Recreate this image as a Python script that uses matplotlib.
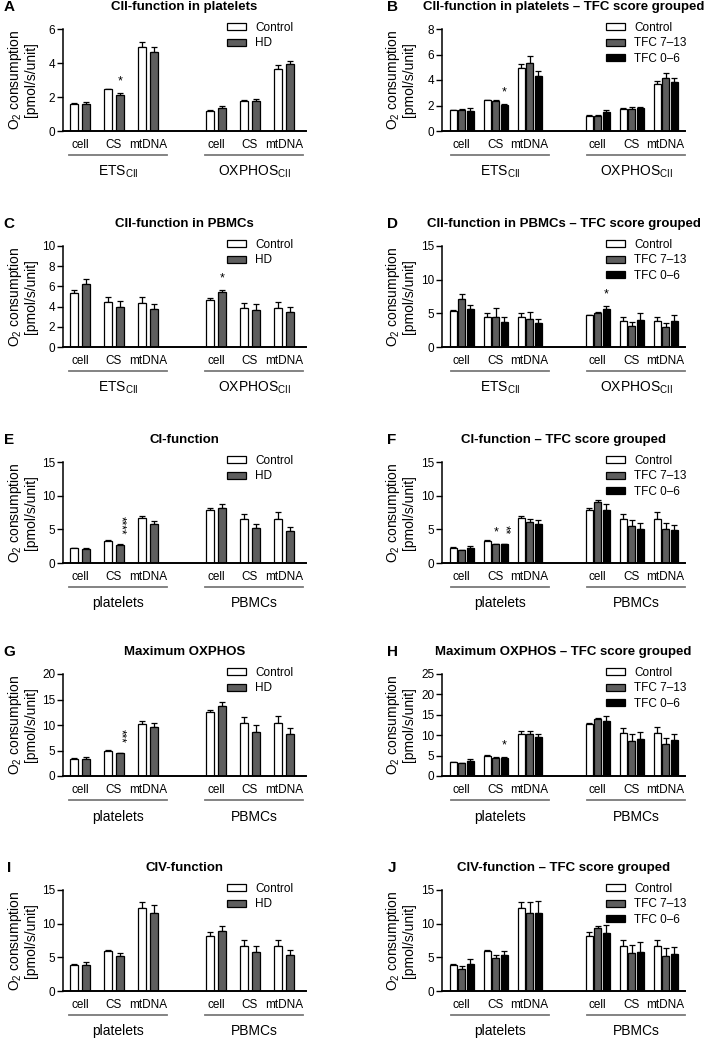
import numpy as np
import matplotlib
matplotlib.use("Agg")
import matplotlib.pyplot as plt
from matplotlib import transforms

plt.rcParams["font.family"] = ["Liberation Sans", "DejaVu Sans"]
plt.rcParams["mathtext.default"] = "regular"

# ---- labels ----
cats = ["cell", "CS", "mtDNA"]
hd_names = ["Control", "HD"]
tfc_names = ["Control", "TFC 7\u201313", "TFC 0\u20136"]
cii_groups = ["ETS$_{CII}$", "OXPHOS$_{CII}$"]
cell_groups = ["platelets", "PBMCs"]

# ---- data: mean values and SEM (6 values: group 1 cell/CS/mtDNA, group 2 cell/CS/mtDNA) ----
A_ctrl = [1.60, 2.45, 4.97, 1.16, 1.76, 3.65]
A_ctrl_err = [0.05, 0.05, 0.28, 0.05, 0.04, 0.22]
A_hd = [1.58, 2.11, 4.64, 1.36, 1.78, 3.92]
A_hd_err = [0.12, 0.12, 0.30, 0.14, 0.09, 0.22]

B_ctrl = [1.62, 2.41, 4.93, 1.18, 1.76, 3.67]
B_ctrl_err = [0.05, 0.05, 0.33, 0.04, 0.04, 0.22]
B_t7 = [1.62, 2.39, 5.35, 1.20, 1.76, 4.15]
B_t7_err = [0.07, 0.07, 0.50, 0.06, 0.10, 0.40]
B_t0 = [1.60, 2.02, 4.28, 1.48, 1.78, 3.86]
B_t0_err = [0.20, 0.08, 0.40, 0.20, 0.08, 0.30]

C_ctrl = [5.38, 4.43, 4.39, 4.69, 3.87, 3.87]
C_ctrl_err = [0.22, 0.50, 0.60, 0.12, 0.46, 0.56]
C_hd = [6.20, 4.00, 3.74, 5.41, 3.64, 3.44]
C_hd_err = [0.50, 0.60, 0.52, 0.23, 0.62, 0.56]

D_ctrl = [5.36, 4.43, 4.43, 4.72, 3.90, 3.90]
D_ctrl_err = [0.20, 0.55, 0.55, 0.10, 0.50, 0.55]
D_t7 = [7.20, 4.48, 4.14, 5.00, 3.17, 2.92]
D_t7_err = [0.60, 1.25, 1.00, 0.15, 0.60, 0.60]
D_t0 = [5.60, 3.70, 3.56, 5.60, 4.04, 3.85]
D_t0_err = [0.70, 0.75, 0.60, 0.45, 0.95, 0.90]

E_ctrl = [2.21, 3.30, 6.64, 7.82, 6.54, 6.54]
E_ctrl_err = [0.05, 0.05, 0.30, 0.35, 0.80, 1.00]
E_hd = [2.07, 2.70, 5.80, 8.20, 5.16, 4.82]
E_hd_err = [0.20, 0.05, 0.40, 0.60, 0.65, 0.60]

F_ctrl = [2.30, 3.30, 6.69, 7.87, 6.54, 6.60]
F_ctrl_err = [0.05, 0.05, 0.35, 0.25, 0.80, 1.00]
F_t7 = [1.87, 2.80, 6.05, 9.00, 5.50, 5.00]
F_t7_err = [0.05, 0.05, 0.55, 0.30, 0.95, 0.90]
F_t0 = [2.20, 2.75, 5.75, 7.82, 5.00, 4.87]
F_t0_err = [0.30, 0.07, 0.70, 0.90, 0.95, 0.80]

G_ctrl = [3.34, 4.98, 10.23, 12.52, 10.36, 10.36]
G_ctrl_err = [0.10, 0.08, 0.55, 0.45, 1.20, 1.50]
G_hd = [3.34, 4.46, 9.70, 13.77, 8.72, 8.26]
G_hd_err = [0.30, 0.07, 0.65, 0.70, 1.20, 1.10]

H_ctrl = [3.44, 5.00, 10.30, 12.70, 10.50, 10.50]
H_ctrl_err = [0.10, 0.10, 0.70, 0.35, 1.30, 1.50]
H_t7 = [3.11, 4.50, 10.25, 14.00, 8.70, 7.95]
H_t7_err = [0.05, 0.10, 0.90, 0.30, 1.50, 1.45]
H_t0 = [3.69, 4.50, 9.60, 13.60, 9.00, 8.77]
H_t0_err = [0.55, 0.10, 0.80, 1.20, 1.90, 1.50]

I_ctrl = [3.92, 5.91, 12.27, 8.15, 6.71, 6.66]
I_ctrl_err = [0.15, 0.25, 0.90, 0.55, 0.80, 0.85]
I_hd = [3.82, 5.17, 11.52, 8.90, 5.81, 5.41]
I_hd_err = [0.45, 0.45, 1.25, 0.80, 0.80, 0.75]

J_ctrl = [3.92, 5.91, 12.27, 8.15, 6.71, 6.66]
J_ctrl_err = [0.15, 0.25, 0.90, 0.55, 0.80, 0.85]
J_t7 = [3.33, 4.92, 11.52, 9.39, 5.71, 5.22]
J_t7_err = [0.45, 0.50, 1.65, 0.30, 1.10, 1.10]
J_t0 = [4.07, 5.31, 11.52, 8.54, 5.81, 5.46]
J_t0_err = [0.65, 0.60, 1.85, 1.25, 1.40, 1.10]

# (series index, bar index, text, stacked vertically)
A_stars = [(1, 1, "*", False)]
B_stars = [(2, 1, "*", False)]
C_stars = [(1, 3, "*", False)]
D_stars = [(2, 3, "*", False)]
E_stars = [(1, 1, "****", True)]
F_stars = [(1, 1, "*", False), (2, 1, "**", True)]
G_stars = [(1, 1, "***", True)]
H_stars = [(2, 1, "*", False)]

panels = [
    ("A", "CII-function in platelets", [A_ctrl, A_hd], [A_ctrl_err, A_hd_err], hd_names, cii_groups, 6, 2, A_stars),
    ("B", "CII-function in platelets \u2013 TFC score grouped", [B_ctrl, B_t7, B_t0],
     [B_ctrl_err, B_t7_err, B_t0_err], tfc_names, cii_groups, 8, 2, B_stars),
    ("C", "CII-function in PBMCs", [C_ctrl, C_hd], [C_ctrl_err, C_hd_err], hd_names, cii_groups, 10, 2, C_stars),
    ("D", "CII-function in PBMCs \u2013 TFC score grouped", [D_ctrl, D_t7, D_t0],
     [D_ctrl_err, D_t7_err, D_t0_err], tfc_names, cii_groups, 15, 5, D_stars),
    ("E", "CI-function", [E_ctrl, E_hd], [E_ctrl_err, E_hd_err], hd_names, cell_groups, 15, 5, E_stars),
    ("F", "CI-function \u2013 TFC score grouped", [F_ctrl, F_t7, F_t0],
     [F_ctrl_err, F_t7_err, F_t0_err], tfc_names, cell_groups, 15, 5, F_stars),
    ("G", "Maximum OXPHOS", [G_ctrl, G_hd], [G_ctrl_err, G_hd_err], hd_names, cell_groups, 20, 5, G_stars),
    ("H", "Maximum OXPHOS \u2013 TFC score grouped", [H_ctrl, H_t7, H_t0],
     [H_ctrl_err, H_t7_err, H_t0_err], tfc_names, cell_groups, 25, 5, H_stars),
    ("I", "CIV-function", [I_ctrl, I_hd], [I_ctrl_err, I_hd_err], hd_names, cell_groups, 15, 5, []),
    ("J", "CIV-function \u2013 TFC score grouped", [J_ctrl, J_t7, J_t0],
     [J_ctrl_err, J_t7_err, J_t0_err], tfc_names, cell_groups, 15, 5, []),
]

W, H = 709, 1038
fig = plt.figure(figsize=(W / 100, H / 100), dpi=100)

# axes frames in pixels
col_x = [(63, 306), (442, 685)]
row_y = [(29, 131), (246, 347), (462, 563), (674, 776), (890, 991)]
xlims = [(-0.5, 6.65), (-0.58, 6.57)]
ylab_x = [-0.103, -0.105]

colors = ["white", "#5e5e5e", "black"]
pos = np.array([0, 1, 2, 4, 5, 6])

for i, (letter, title, vals, errs, names, groups, ymax, ystep, stars) in enumerate(panels):
    col = i % 2
    row = i // 2
    x0, x1 = col_x[col]
    y0, y1 = row_y[row]
    ax = fig.add_axes([x0 / W, 1 - y1 / H, (x1 - x0) / W, (y1 - y0) / H])

    n = len(vals)
    if n == 2:
        width, step = 0.235, 0.352
    else:
        width, step = 0.205, 0.25
    offs = (np.arange(n) - (n - 1) / 2) * step
    for k in range(n):
        ax.bar(pos + offs[k], vals[k], width, color=colors[k], edgecolor="black",
               linewidth=0.9, label=names[k], zorder=2)
        ax.errorbar(pos + offs[k], vals[k], yerr=[np.zeros(6), errs[k]], fmt="none",
                    ecolor="black", elinewidth=0.9, capsize=2.2, capthick=0.9, zorder=1)

    for (k, j, txt, vert) in stars:
        top = vals[k][j] + errs[k][j]
        if vert:
            ax.annotate(txt, xy=(pos[j] + offs[k], top), xytext=(0, 7), textcoords="offset points",
                        ha="center", va="bottom", rotation=270, fontsize=8.5)
        else:
            ax.annotate(txt, xy=(pos[j] + offs[k], top), xytext=(0, 4), textcoords="offset points",
                        ha="center", va="bottom", fontsize=9)

    ax.set_xlim(*xlims[col])
    ax.set_ylim(0, ymax)
    ax.set_yticks(np.arange(0, ymax + 0.01, ystep))
    ax.set_xticks(pos)
    ax.set_xticklabels(cats * 2)
    ax.tick_params(axis="x", length=0, pad=6, labelsize=8.5)
    ax.tick_params(axis="y", length=4.5, width=1, pad=1, labelsize=8.5)
    for s in ["top", "right"]:
        ax.spines[s].set_visible(False)
    ax.spines["left"].set_linewidth(1.1)
    ax.spines["bottom"].set_linewidth(1.4)

    # group underline and label
    trans = transforms.blended_transform_factory(ax.transData, ax.transAxes)
    for g, (a, b) in enumerate([(0, 2), (3, 5)]):
        xa = pos[a] - 0.31
        xb = pos[b] + 0.57
        ax.plot([xa, xb], [-0.235, -0.235], color="#7a7a7a", lw=1.3, transform=trans, clip_on=False)
        ax.text((xa + xb) / 2, -0.40, groups[g], transform=trans, ha="center", va="center",
                fontsize=10)

    ax.set_ylabel("O$_2$ consumption\n[pmol/s/unit]", fontsize=10, linespacing=1.0)
    ax.yaxis.set_label_coords(ylab_x[col], 0.5)

    ax.annotate(title, xy=(0.5, 1), xycoords="axes fraction", xytext=(0, 15.5),
                textcoords="offset points", ha="center", va="center", fontsize=9.5,
                fontweight="bold")
    ax.annotate(letter, xy=(0, 1), xycoords="axes fraction", xytext=(-39 if col == 0 else -36, 15.5),
                textcoords="offset points", ha="center", va="center", fontsize=11,
                fontweight="bold")

    ax.legend(loc="upper left", bbox_to_anchor=(0.675, 1.07), frameon=False, fontsize=8.5,
              handlelength=1.6, handleheight=0.55, handletextpad=0.8, labelspacing=0.3,
              borderpad=0, borderaxespad=0)

fig.savefig("out.png", dpi=100)
